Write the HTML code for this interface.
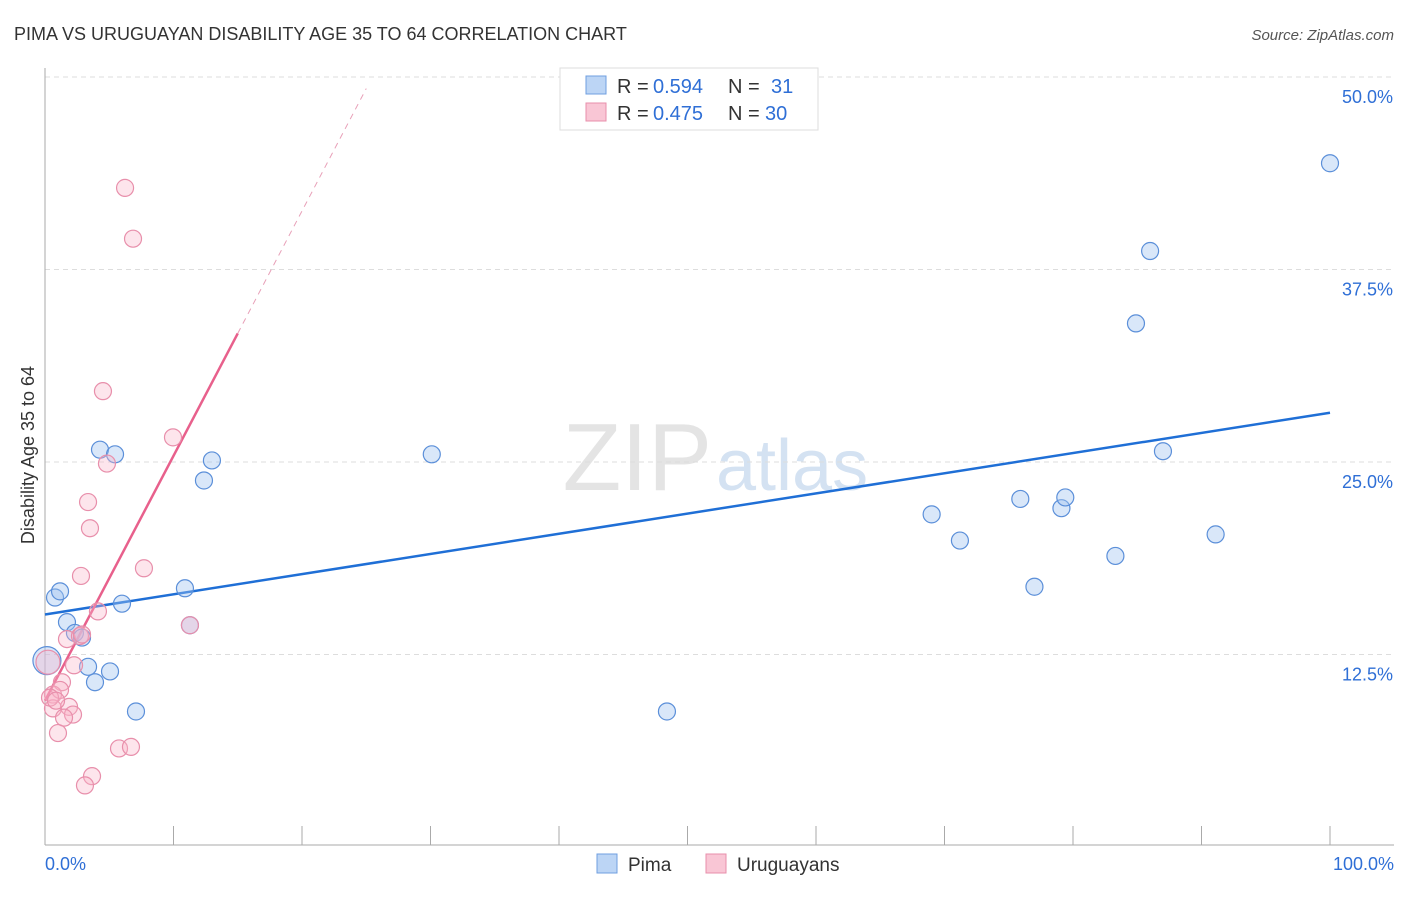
<!DOCTYPE html>
<html><head><meta charset="utf-8"><style>
body{margin:0;background:#fff;font-family:"Liberation Sans",sans-serif;}
svg text{font-family:"Liberation Sans",sans-serif;}
</style></head><body>
<svg id="chart" width="1406" height="892">
<text x="14" y="40" font-size="18" fill="#333">PIMA VS URUGUAYAN DISABILITY AGE 35 TO 64 CORRELATION CHART</text>
<text x="1394" y="40" font-size="15" fill="#555" font-style="italic" text-anchor="end">Source: ZipAtlas.com</text>
<text x="712" y="490" font-size="96" fill="#e4e4e4" text-anchor="end" font-family="Liberation Serif">ZIP</text>
<text x="716" y="490" font-size="72" fill="#d4e2f2">atlas</text>
<g id="grid"></g><g id="axes"></g><g id="lines"></g><g id="points"></g>
<text transform="translate(34,455) rotate(-90)" font-size="18" fill="#333" text-anchor="middle">Disability Age 35 to 64</text>
<g>
<rect x="560" y="68" width="258" height="62" fill="#fff" stroke="#ddd"/>
<rect x="586" y="76" width="20" height="18" fill="#bcd5f5" stroke="#6f9fe0"/>
<rect x="586" y="103" width="20" height="18" fill="#f9c6d5" stroke="#e88fab"/>
<text x="617" y="93" font-size="20" fill="#333">R =</text>
<text x="653" y="93" font-size="20" fill="#2f6fd6">0.594</text>
<text x="728" y="93" font-size="20" fill="#333">N =</text>
<text x="771" y="93" font-size="20" fill="#2f6fd6">31</text>
<text x="617" y="120" font-size="20" fill="#333">R =</text>
<text x="653" y="120" font-size="20" fill="#2f6fd6">0.475</text>
<text x="728" y="120" font-size="20" fill="#333">N =</text>
<text x="765" y="120" font-size="20" fill="#2f6fd6">30</text>
</g>
<g>
<rect x="597" y="854" width="20" height="19" fill="#bcd5f5" stroke="#6f9fe0"/>
<text x="628" y="871" font-size="19" fill="#333">Pima</text>
<rect x="706" y="854" width="20" height="19" fill="#f9c6d5" stroke="#e88fab"/>
<text x="737" y="871" font-size="19" fill="#333">Uruguayans</text>
</g>
</svg>
<script>
const yTicks=[12.5,25,37.5,50];
const yTickLabels=["12.5%","25.0%","37.5%","50.0%"];
const xTickLabels=["0.0%","100.0%"];
const pimaX=[0.78,1.17,1.71,2.33,2.88,3.35,3.89,4.28,5.06,5.45,5.99,7.08,10.89,11.28,12.37,12.99,30.1,48.4,69.0,71.2,75.9,77.0,79.1,79.4,83.3,84.9,86.0,87.0,91.1,100,0.15];
const pimaY=[16.2,16.6,14.6,13.9,13.6,11.7,10.7,25.8,11.4,25.5,15.8,8.8,16.8,14.4,23.8,25.1,25.5,8.8,21.6,19.9,22.6,16.9,22.0,22.7,18.9,34.0,38.7,25.7,20.3,44.4,12.1];
const uruX=[2.80,7.70,4.12,1.71,2.72,0.23,2.26,1.32,0.62,0.62,1.87,2.18,1.48,1.01,5.76,6.69,3.66,3.11,11.28,6.23,6.85,4.51,9.96,4.82,3.35,3.50,1.17,0.39,0.86,2.88];
const uruY=[17.6,18.1,15.3,13.5,13.7,12.0,11.8,10.7,9.9,9.0,9.1,8.6,8.4,7.4,6.4,6.5,4.6,4.0,14.4,42.8,39.5,29.6,26.6,24.9,22.4,20.7,10.2,9.7,9.5,13.8];
const pimaTrend=[15.1,28.2];
const uruTrend=[9.5,1.59];
const NS="http://www.w3.org/2000/svg";
const sx=v=>45+v*12.85, sy=v=>847-v*15.4;
function mk(p,t,a){const e=document.createElementNS(NS,t);for(const k in a)e.setAttribute(k,a[k]);p.appendChild(e);return e;}
const grid=document.getElementById('grid'),axes=document.getElementById('axes'),lines=document.getElementById('lines'),pts=document.getElementById('points');
yTicks.forEach((t,i)=>{
 const l=mk(grid,'line',{x1:45,x2:1394,y1:sy(t),y2:sy(t),stroke:'#ddd','stroke-dasharray':'5,4'});
 
 
 const tx=mk(axes,'text',{x:1393,y:sy(t)+26,'font-size':18,fill:'#2f6fd6','text-anchor':'end'});tx.textContent=yTickLabels[i];
 
 
});
const ya=mk(axes,'line',{x1:45,x2:45,y1:68,y2:845,stroke:'#aaa'});


const xa=mk(axes,'line',{x1:45,x2:1394,y1:845,y2:845,stroke:'#aaa'});


for(let i=0;i<=10;i++){const tk=mk(axes,'line',{x1:sx(i*10),x2:sx(i*10),y1:826,y2:845,stroke:'#aaa'});
 
 }
[[0,'start',45],[100,'end',1394]].forEach((d,i)=>{const t=mk(axes,'text',{x:d[2],y:870,'font-size':18,fill:'#2f6fd6','text-anchor':d[1]});t.textContent=xTickLabels[i];
 
 });
const bl=mk(lines,'line',{x1:sx(0),y1:sy(pimaTrend[0]),x2:sx(100),y2:sy(pimaTrend[1]),stroke:'#1f6fd6','stroke-width':2.5});


const pl=mk(lines,'line',{x1:sx(0),y1:sy(uruTrend[0]),x2:sx(15),y2:sy(uruTrend[0]+15*uruTrend[1]),stroke:'#e8608c','stroke-width':2.5});


const pd=mk(lines,'line',{x1:sx(15),y1:sy(uruTrend[0]+15*uruTrend[1]),x2:sx(25),y2:sy(uruTrend[0]+25*uruTrend[1]),stroke:'#e8a0b8','stroke-width':1,'stroke-dasharray':'6,5'});


pimaX.forEach((x,i)=>{const c=mk(pts,'circle',{cx:sx(x),cy:sy(pimaY[i]),r:i==30?14:8.5,fill:'rgba(160,196,240,0.4)',stroke:'#5b8fd9','stroke-width':1.2});
 
 });
uruX.forEach((x,i)=>{const c=mk(pts,'circle',{cx:sx(x),cy:sy(uruY[i]),r:i==5?12:8.5,fill:'rgba(248,180,200,0.35)',stroke:'#e88fab','stroke-width':1.2});
 
 });
</script>
</body></html>
